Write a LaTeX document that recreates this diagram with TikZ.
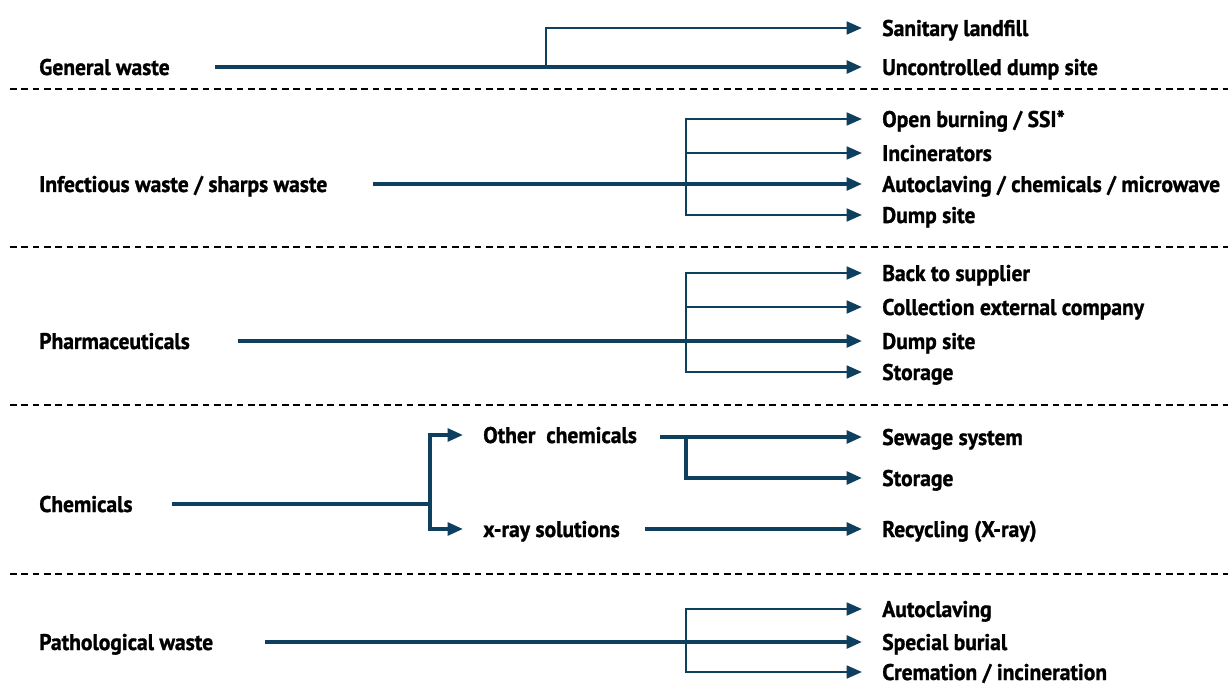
\documentclass[tikz,border=0pt]{standalone}
\usepackage{fontspec}
\setmainfont{PT Sans}[FakeStretch=0.95, BoldFeatures={FakeBold=1.2}]
\usetikzlibrary{arrows.meta}
\definecolor{flow}{HTML}{0E3F5E}
\begin{document}
\begin{tikzpicture}[x=0.75pt,y=-0.75pt,
  txt/.style={anchor=west, inner ysep=0pt, inner xsep=0pt, text height=12pt, text depth=0pt,
    font=\bfseries\fontsize{17}{20}\selectfont},
  src/.style={txt},
  tgt/.style={txt, inner xsep=15pt},
  main/.style={draw=flow, line width=2.6pt},
  br/.style={draw=flow, line width=2pt},
  arr/.style={-{Triangle[length=11.5pt,width=9.5pt]}},
  sep/.style={draw=black, line width=1.1pt, dash pattern=on 5pt off 3.5pt}
]
\useasboundingbox (0,0) rectangle (1228,684);

% separators
\draw[sep] (10,89) -- (1228,89);
\draw[sep] (10,247) -- (1228,247);
\draw[sep] (10,405) -- (1228,405);
\draw[sep] (10,574) -- (1228,574);

% General waste
\node[src] (gw) at (39,67) {General waste};
\node[tgt] (gw1) at (862,28) {Sanitary landfill};
\node[tgt] (gw2) at (862,67) {Uncontrolled dump site};
\coordinate (gws) at (215,67);
\coordinate (gwj) at (546,67);
\draw[main,arr] (gws) -- (gw2.west);
\draw[br,arr] (gwj) |- (gw1.west);

% Infectious
\node[src] (iw) at (39,184) {Infectious waste / sharps waste};
\node[tgt] (iw1) at (862,119) {Open burning / SSI*};
\node[tgt] (iw2) at (862,153) {Incinerators};
\node[tgt] (iw3) at (862,184) {Autoclaving / chemicals / microwave};
\node[tgt] (iw4) at (862,215) {Dump site};
\coordinate (iws) at (373,184);
\coordinate (iwj) at (686,184);
\draw[main,arr] (iws) -- (iw3.west);
\draw[br,arr] (iwj) |- (iw1.west);
\draw[br,arr] (iwj) |- (iw2.west);
\draw[br,arr] (iwj) |- (iw4.west);

% Pharmaceuticals
\node[src] (ph) at (39,341) {Pharmaceuticals};
\node[tgt] (ph1) at (862,273) {Back to supplier};
\node[tgt] (ph2) at (862,307) {Collection external company};
\node[tgt] (ph3) at (862,341) {Dump site};
\node[tgt] (ph4) at (862,372) {Storage};
\coordinate (phs) at (238,341);
\coordinate (phj) at (686,341);
\draw[main,arr] (phs) -- (ph3.west);
\draw[br,arr] (phj) |- (ph1.west);
\draw[br,arr] (phj) |- (ph2.west);
\draw[br,arr] (phj) |- (ph4.west);

% Chemicals
\node[src] (ch) at (39,504) {Chemicals};
\node[tgt] (oc) at (463,435) {Other\ \ chemicals};
\node[tgt] (xr) at (463,529) {x-ray solutions};
\node[tgt] (oc1) at (862,437) {Sewage system};
\node[tgt] (oc2) at (862,478) {Storage};
\node[tgt] (xr1) at (862,529) {Recycling (X-ray)};
\coordinate (chs) at (172,504);
\coordinate (chj) at (430,504);
\draw[main] (chs) -- (chj);
\draw[main,arr] (chj) |- (oc.west);
\draw[main,arr] (chj) |- (xr.west);
\coordinate (ocs) at (660,437);
\coordinate (ocj) at (686,437);
\draw[main,arr] (ocs) -- (oc1.west);
\draw[main,arr] (ocj) |- (oc2.west);
\coordinate (xrs) at (645,529);
\draw[main,arr] (xrs) -- (xr1.west);

% Pathological
\node[src] (pw) at (39,642) {Pathological waste};
\node[tgt] (pw1) at (862,609) {Autoclaving};
\node[tgt] (pw2) at (862,642) {Special burial};
\node[tgt] (pw3) at (862,672) {Cremation / incineration};
\coordinate (pws) at (265,642);
\coordinate (pwj) at (686,642);
\draw[main,arr] (pws) -- (pw2.west);
\draw[br,arr] (pwj) |- (pw1.west);
\draw[br,arr] (pwj) |- (pw3.west);
\end{tikzpicture}
\end{document}
